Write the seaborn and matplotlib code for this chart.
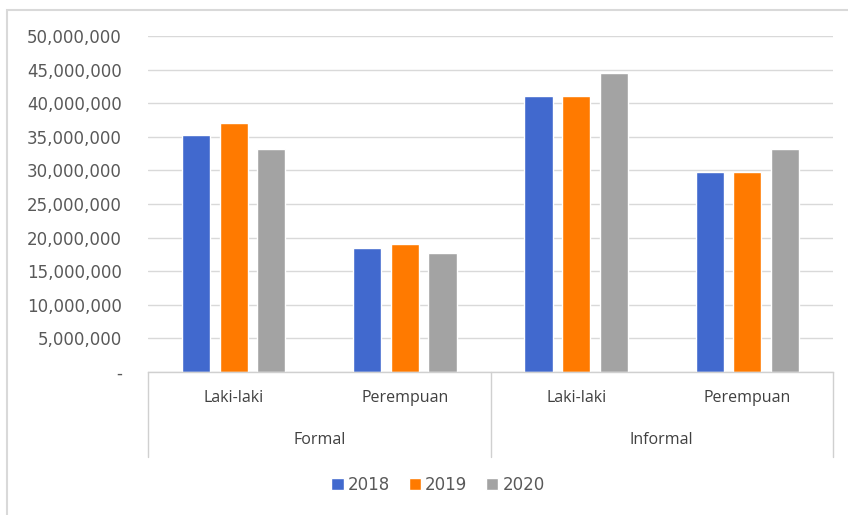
import matplotlib
matplotlib.use("Agg")
import matplotlib.pyplot as plt
from matplotlib.patches import Rectangle
from matplotlib.transforms import blended_transform_factory
from matplotlib.ticker import FixedLocator
import seaborn as sns
import pandas as pd

# Pekerja menurut sektor dan jenis kelamin
tahun = ["2018", "2019", "2020"]
sektor = ["Formal", "Formal", "Informal", "Informal"]
jenis_kelamin = ["Laki-laki", "Perempuan", "Laki-laki", "Perempuan"]
nilai_2018 = [35_300_000, 18_400_000, 41_000_000, 29_700_000]
nilai_2019 = [37_100_000, 19_000_000, 41_000_000, 29_700_000]
nilai_2020 = [33_200_000, 17_700_000, 44_500_000, 33_200_000]
y_ticks = [0, 5_000_000, 10_000_000, 15_000_000, 20_000_000, 25_000_000,
           30_000_000, 35_000_000, 40_000_000, 45_000_000, 50_000_000]

warna = ["#4169CE", "#FF7A00", "#A3A3A3"]

kunci = [f"{s} {j}" for s, j in zip(sektor, jenis_kelamin)]
rows = []
for th, vals in zip(tahun, [nilai_2018, nilai_2019, nilai_2020]):
    for k, v in zip(kunci, vals):
        rows.append({"kategori": k, "tahun": th, "jumlah": v})
df = pd.DataFrame(rows)

sns.set_theme(style="white")
plt.rcParams["font.family"] = ["DejaVu Sans"]

W, H = 848, 515
fig = plt.figure(figsize=(W / 100, H / 100), dpi=100)
fig.patch.set_facecolor("white")

# plot area in pixel terms
x0, x1, ytop, ybot = 148, 833, 36, 372
ax = fig.add_axes([x0 / W, 1 - ybot / H, (x1 - x0) / W, (ybot - ytop) / H])

sns.barplot(data=df, x="kategori", y="jumlah", hue="tahun", order=kunci,
            hue_order=tahun, palette=warna, width=0.658, gap=0.25,
            saturation=1, ax=ax, legend=True, errorbar=None)

ax.set_ylim(0, 50_000_000)
ax.set_xlim(-0.5, len(kunci) - 0.5)
ax.yaxis.set_major_locator(FixedLocator(y_ticks))
ax.set_yticklabels(["-"] + [f"{v:,}" for v in y_ticks[1:]])
ax.grid(axis="y", color="#D9D9D9", linewidth=1.0)
ax.set_axisbelow(True)
for side in ["top", "right", "left"]:
    ax.spines[side].set_visible(False)
ax.spines["bottom"].set_color("#D0D0D0")
ax.spines["bottom"].set_linewidth(1.0)

ax.set_xlabel("")
ax.set_ylabel("")
ax.tick_params(axis="y", length=0, pad=26 * 0.72, labelsize=12, labelcolor="#595959")
ax.tick_params(axis="x", length=0, pad=18 * 0.72)
ax.set_xticks(range(len(kunci)))
ax.set_xticklabels(jenis_kelamin, fontsize=11.5, color="#404040",
                   fontfamily="Open Sans")

# second level of the category axis
trans = blended_transform_factory(ax.transData, ax.transAxes)
grup = ["Formal", "Informal"]
for i, g in enumerate(grup):
    ax.text(2 * i + 0.5, -68 / 336, g, transform=trans, ha="center", va="center",
            fontsize=11.5, color="#404040", fontfamily="Open Sans")
for xv in [-0.5, 1.5, 3.5]:
    ax.plot([xv, xv], [0, -85 / 336], transform=trans, color="#D0D0D0",
            linewidth=1.0, clip_on=False)

# legend
leg = ax.legend(loc="center", bbox_to_anchor=(438 / W, 1 - 485 / H),
                bbox_transform=fig.transFigure, ncol=3, frameon=False,
                handlelength=0.75, handleheight=0.75, handletextpad=0.25,
                columnspacing=1.1, fontsize=12)
for t in leg.get_texts():
    t.set_color("#595959")

# chart frame
fig.add_artist(Rectangle((7 / W, -0.1), 1.2, 1 - 10 / H + 0.1,
                         transform=fig.transFigure, fill=False,
                         edgecolor="#D9D9D9", linewidth=1.5))

fig.savefig("out.png", dpi=100, facecolor="white")
